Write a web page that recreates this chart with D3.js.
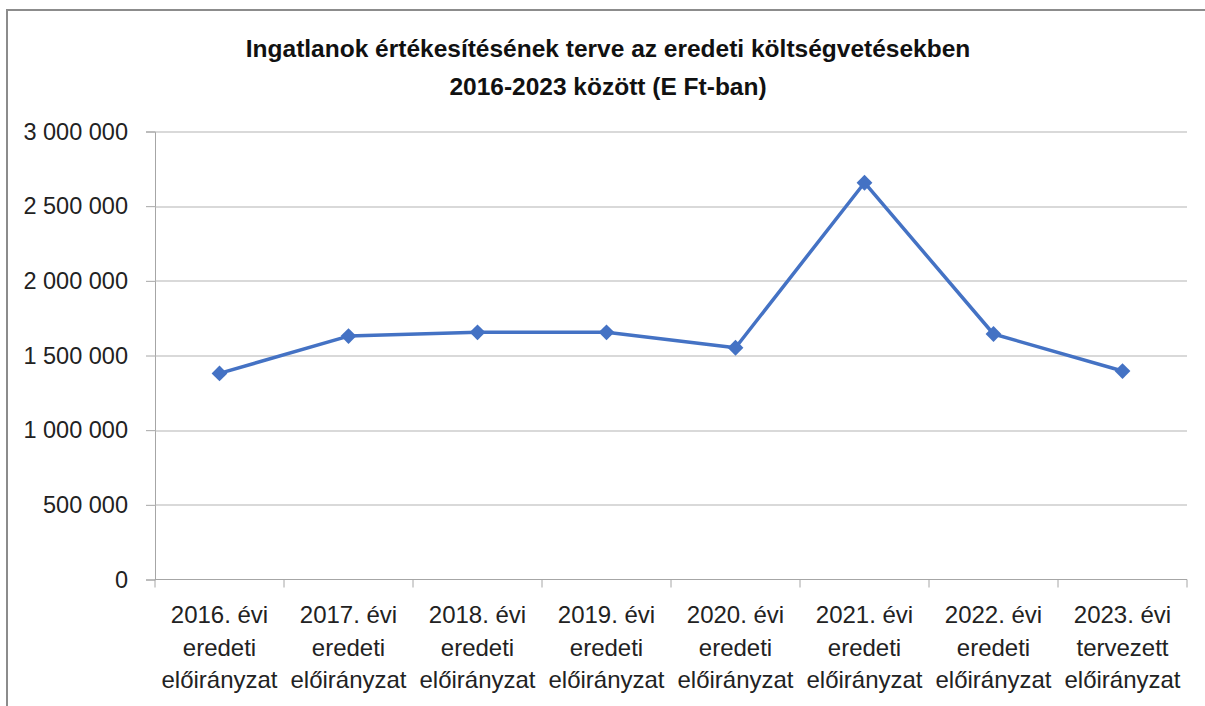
<!DOCTYPE html>
<html>
<head>
<meta charset="utf-8">
<script src="https://cdn.jsdelivr.net/npm/d3@7"></script>
<style>
  html, body { margin: 0; padding: 0; background: #fff; }
  svg { display: block; font-family: "Liberation Sans", Arial, sans-serif; }
</style>
</head>
<body>
<svg id="chart" width="1205" height="706"></svg>
<script>
const titleLines = ['Ingatlanok értékesítésének terve az eredeti költségvetésekben', '2016-2023 között (E Ft-ban)'];
const categories = [
  ['2016. évi', 'eredeti', 'előirányzat'],
  ['2017. évi', 'eredeti', 'előirányzat'],
  ['2018. évi', 'eredeti', 'előirányzat'],
  ['2019. évi', 'eredeti', 'előirányzat'],
  ['2020. évi', 'eredeti', 'előirányzat'],
  ['2021. évi', 'eredeti', 'előirányzat'],
  ['2022. évi', 'eredeti', 'előirányzat'],
  ['2023. évi', 'tervezett', 'előirányzat']
];
const values = [1380000, 1630000, 1655000, 1655000, 1552000, 2657000, 1644000, 1396000];
const yTicks = [0, 500000, 1000000, 1500000, 2000000, 2500000, 3000000];

const svg = d3.select('#chart');
const margin = { top: 131.5, right: 18, bottom: 126.5, left: 155 };
const width = 1205, height = 706;
const innerWidth = width - margin.left - margin.right;
const innerHeight = height - margin.top - margin.bottom;

// keret
svg.append('path')
  .attr('d', `M7,${height} V10 H${width}`)
  .attr('fill', 'none')
  .attr('stroke', '#8c8c8c')
  .attr('stroke-width', 2);

svg.selectAll('.title')
  .data(titleLines)
  .enter()
  .append('text')
  .attr('class', 'title')
  .attr('x', 608)
  .attr('y', (d, i) => 57 + i * 38)
  .attr('text-anchor', 'middle')
  .attr('font-weight', 'bold')
  .attr('font-size', 24.5)
  .attr('fill', '#111')
  .text(d => d);

const g = svg.append('g')
  .attr('transform', `translate(${margin.left},${margin.top})`);

const x = d3.scaleBand()
  .domain(categories.map((d, i) => i))
  .range([0, innerWidth]);

const y = d3.scaleLinear()
  .domain([0, 3000000])
  .range([innerHeight, 0]);

const fmt = v => d3.format(',')(v).replace(/,/g, '\u00a0');

// rácsvonalak + y tengely
const yAxis = g.append('g')
  .call(d3.axisLeft(y).tickValues(yTicks).tickSize(9).tickPadding(18).tickFormat(fmt));
yAxis.select('.domain').attr('stroke', '#a6a6a6');
yAxis.selectAll('.tick line').attr('stroke', '#a6a6a6');
yAxis.selectAll('.tick text')
  .attr('font-size', 23.5)
  .attr('fill', '#222')
  .attr('font-family', '"Liberation Sans", Arial, sans-serif');

g.append('g')
  .selectAll('line')
  .data(yTicks.filter(d => d > 0))
  .enter()
  .append('line')
  .attr('x1', 0)
  .attr('x2', innerWidth)
  .attr('y1', d => Math.round(y(d)) + 0.5)
  .attr('y2', d => Math.round(y(d)) + 0.5)
  .attr('stroke', '#b3b3b3')
  .attr('stroke-width', 1.2);

// x tengely
const xAxis = g.append('g')
  .attr('transform', `translate(0,${innerHeight})`);
xAxis.append('line')
  .attr('x1', 0).attr('x2', innerWidth)
  .attr('stroke', '#a6a6a6');
xAxis.selectAll('.tk')
  .data(d3.range(categories.length + 1))
  .enter()
  .append('line')
  .attr('class', 'tk')
  .attr('x1', i => i < categories.length ? x(i) : innerWidth)
  .attr('x2', i => i < categories.length ? x(i) : innerWidth)
  .attr('y1', 0).attr('y2', 8)
  .attr('stroke', '#a6a6a6');

const labelRows = categories.flatMap((d, i) => d.map((t, j) => ({ t, i, j })));
xAxis.selectAll('.lbl')
  .data(labelRows)
  .enter()
  .append('text')
  .attr('class', 'lbl')
  .attr('x', d => x(d.i) + x.bandwidth() / 2)
  .attr('y', d => 43.5 + d.j * 32.5)
  .attr('text-anchor', 'middle')
  .attr('font-size', 24)
  .attr('fill', '#222')
  .text(d => d.t);

// vonal
const line = d3.line()
  .x((d, i) => x(i) + x.bandwidth() / 2)
  .y(d => y(d));

g.append('path')
  .datum(values)
  .attr('d', line)
  .attr('fill', 'none')
  .attr('stroke', '#4472c4')
  .attr('stroke-width', 3.5)
  .attr('stroke-linejoin', 'round');

g.selectAll('.marker')
  .data(values)
  .enter()
  .append('path')
  .attr('class', 'marker')
  .attr('d', d3.symbol(d3.symbolSquare, 125))
  .attr('transform', (d, i) => `translate(${x(i) + x.bandwidth() / 2},${y(d)}) rotate(45)`)
  .attr('fill', '#4472c4');
</script>
</body>
</html>
